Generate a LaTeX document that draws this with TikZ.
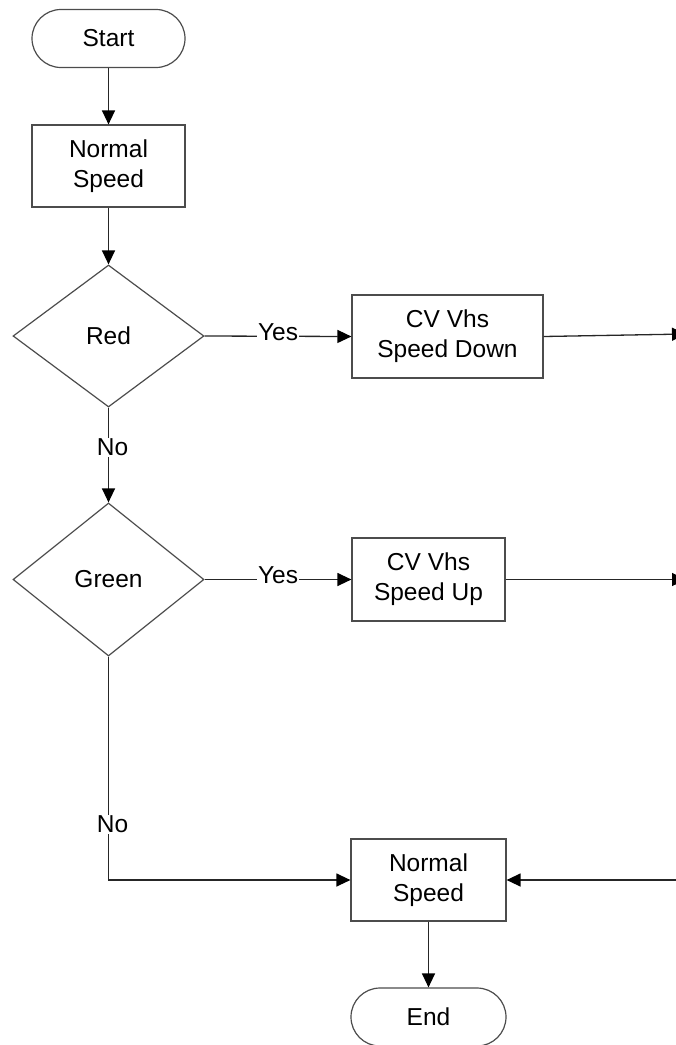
\documentclass[tikz,border=0pt]{standalone}
\usepackage{fontspec}
\setmainfont{Liberation Sans}
\usetikzlibrary{shapes.geometric,arrows.meta}
\begin{document}
\begin{tikzpicture}[x=1pt,y=-1pt,
  every node/.style={font=\fontsize{24.5}{30}\selectfont, text=black},
  term/.style={draw=black!70, line width=1.2pt, rounded corners=29pt, minimum width=153pt, minimum height=58pt, inner sep=0pt},
  proc/.style={draw=black!70, line width=1.2pt, align=center, inner sep=0pt},
  dec/.style={diamond, draw=black!70, line width=1.2pt, inner sep=0pt},
  conn/.style={draw=black!85, line width=1.3pt, -{Triangle[length=14pt,width=13pt,fill=black,color=black]}},
  lbl/.style={fill=white, inner sep=1pt}]
\useasboundingbox (0,0) rectangle (676,1045);

\node[term] (start) at (108.5,38.5) {Start};
\node[proc, minimum width=153pt, minimum height=82pt] (ns1) at (108.5,166) {Normal\\Speed};
\node[dec, minimum width=191pt, minimum height=142pt] (red) at (108.5,336) {Red};
\node[dec, minimum width=191pt, minimum height=153pt] (green) at (108.5,579.5) {Green};
\node[proc, minimum width=191pt, minimum height=83pt] (down) at (447.5,336.5) {CV Vhs\\Speed Down};
\node[proc, minimum width=153pt, minimum height=83pt] (up) at (428.5,579.5) {CV Vhs\\Speed Up};
\node[proc, minimum width=155pt, minimum height=82pt] (ns2) at (428.5,880) {Normal\\Speed};
\node[term, minimum width=155pt] (end) at (428.5,1017) {End};

\coordinate (o1) at (686,334);
\coordinate (o2) at (686,579.5);
\coordinate (i3) at (676,880);

\draw[conn] (start) -- (ns1);
\draw[conn] (ns1) -- (red);
\draw[conn] (red.south) -- node[lbl, pos=0.42, xshift=4pt] {No} (green.north);
\draw[conn] (red.east) -- node[lbl, pos=0.5, yshift=4pt] {Yes} (down.west);
\draw[conn] (green.east) -- node[lbl, pos=0.5, yshift=4pt] {Yes} (up.west);
\draw[conn] (green.south) -- node[lbl, pos=0.75, xshift=4pt] {No} (green.south |- ns2.west) -- (ns2.west);
\draw[conn] (down.east) -- (o1);
\draw[conn] (up.east) -- (o2);
\draw[conn] (i3) -- (ns2.east);
\draw[conn] (ns2) -- (end);
\end{tikzpicture}
\end{document}
